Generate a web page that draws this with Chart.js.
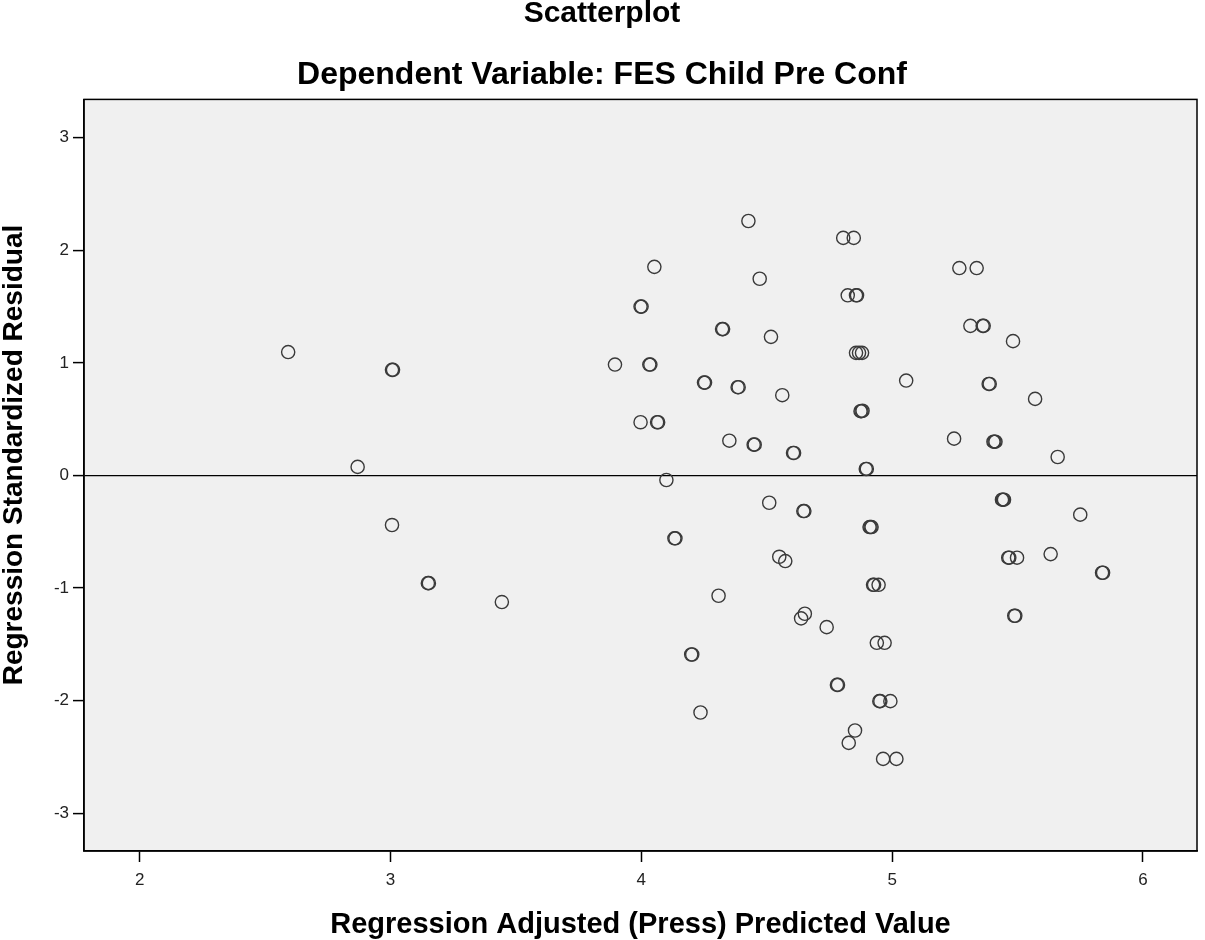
<!DOCTYPE html>
<html>
<head>
<meta charset="utf-8">
<script src="https://cdn.jsdelivr.net/npm/chart.js@4.4.1/dist/chart.umd.min.js"></script>
<style>
  html, body { margin: 0; padding: 0; background: #fff; overflow: hidden; }
  #wrap { width: 1205px; height: 940px; position: relative; }
  #myChart { display: block; }
</style>
</head>
<body>
<div id="wrap"><canvas id="myChart"></canvas></div>
<script>
// Regression Adjusted (Press) Predicted Value
const predicted = [
    2.592, 3.006, 3.010, 2.869, 3.006, 3.149, 3.153, 3.444,
    4.427, 4.805, 4.847, 4.052, 4.472, 4.823, 4.856, 4.860, 3.997, 4.001,
    4.322, 4.326, 4.517, 4.856, 4.868, 4.880, 3.895, 4.032, 4.036,
    4.250, 4.254, 4.384, 4.388, 4.562, 5.056, 4.874, 4.878, 4.882,
    3.997, 4.063, 4.067, 4.351, 4.448, 4.452, 4.605, 4.609, 4.895, 4.899,
    4.100, 4.510, 4.646, 4.650, 4.910, 4.914, 4.918, 4.132, 4.136,
    4.550, 4.574, 4.924, 4.928, 4.946, 4.308, 4.652, 4.637, 4.739,
    4.939, 4.970, 4.199, 4.203, 4.780, 4.784, 4.949, 4.953, 4.993,
    4.236, 4.852, 4.827, 4.964, 5.017,
    5.268, 5.337, 5.312, 5.361, 5.365, 5.482, 5.385, 5.389, 5.570,
    5.247, 5.404, 5.408, 5.412, 5.660, 5.438, 5.442, 5.446, 5.750,
    5.463, 5.467, 5.498, 5.632, 5.837, 5.841, 5.487, 5.491
];
// Regression Standardized Residual
const residual = [
    1.096, 0.938, 0.938, 0.076, -0.44, -0.956, -0.956, -1.124,
    2.26, 2.11, 2.11, 1.853, 1.747, 1.60, 1.60, 1.60, 1.50, 1.50,
    1.30, 1.30, 1.231, 1.089, 1.089, 1.089, 0.985, 0.985, 0.985,
    0.825, 0.825, 0.784, 0.784, 0.713, 0.843, 0.571, 0.571, 0.575,
    0.473, 0.473, 0.473, 0.309, 0.274, 0.274, 0.20, 0.20, 0.058, 0.058,
    -0.04, -0.242, -0.316, -0.316, -0.458, -0.458, -0.458, -0.558, -0.558,
    -0.722, -0.76, -0.971, -0.971, -0.971, -1.068, -1.228, -1.269, -1.347,
    -1.486, -1.486, -1.59, -1.59, -1.86, -1.86, -2.004, -2.004, -2.004,
    -2.105, -2.265, -2.375, -2.517, -2.517,
    1.842, 1.842, 1.329, 1.329, 1.329, 1.193, 0.813, 0.813, 0.68,
    0.327, 0.30, 0.30, 0.30, 0.164, -0.215, -0.215, -0.215, -0.348,
    -0.73, -0.73, -0.73, -0.698, -0.864, -0.864, -1.246, -1.246
];
const xTicks = [2, 3, 4, 5, 6];
const yTicks = [-3, -2, -1, 0, 1, 2, 3];
const yTitle = 'Regression Standardized Residual';

const FONT = "Arial, 'Liberation Sans', sans-serif";

const points = predicted.map((x, i) => ({ x: x, y: residual[i] }));

// plot background, frame and the (off-centre) y axis title
const frame = {
    id: 'frame',
    beforeDraw(chart) {
        const { ctx, chartArea: a } = chart;
        ctx.save();
        ctx.fillStyle = '#fff';
        ctx.fillRect(0, 0, chart.width, chart.height);
        ctx.fillStyle = '#f0f0f0';
        ctx.fillRect(a.left, a.top, a.right - a.left, a.bottom - a.top);
        ctx.restore();
    },
    afterDraw(chart) {
        const { ctx, chartArea: a } = chart;
        ctx.save();
        ctx.strokeStyle = '#000';
        ctx.lineWidth = 1.5;
        ctx.strokeRect(a.left, a.top, a.right - a.left, a.bottom - a.top);
        // y title sits a bit above the plot centre in the original
        ctx.translate(14, 455);
        ctx.rotate(-Math.PI / 2);
        ctx.fillStyle = '#000';
        ctx.font = 'bold 28px ' + FONT;
        ctx.textAlign = 'center';
        ctx.textBaseline = 'middle';
        ctx.fillText(yTitle, 0, 0);
        ctx.restore();
    }
};

const ctx = document.getElementById('myChart').getContext('2d');
const myChart = new Chart(ctx, {
    type: 'scatter',
    data: {
        datasets: [{
            data: points,
            pointRadius: 6.6,
            pointHoverRadius: 6.6,
            pointBorderWidth: 1.4,
            pointBorderColor: '#3a3a3a',
            pointBackgroundColor: 'rgba(0,0,0,0)'
        }]
    },
    options: {
        responsive: true,
        maintainAspectRatio: false,
        animation: false,
        layout: { padding: { left: 0, right: 1, top: 0, bottom: 0 } },
        plugins: {
            legend: { display: false },
            tooltip: { enabled: false },
            title: {
                display: true,
                text: 'Scatterplot',
                color: '#000',
                font: { family: FONT, size: 30, weight: 'bold', lineHeight: 0.9 },
                padding: { top: 0, bottom: 0 }
            },
            subtitle: {
                display: true,
                text: 'Dependent Variable: FES Child Pre Conf',
                color: '#000',
                font: { family: FONT, size: 32, weight: 'bold' },
                padding: { top: 29, bottom: 5 }
            }
        },
        scales: {
            x: {
                type: 'linear',
                min: 1.778,
                max: 6.2155,
                afterFit: (s) => { s.height = 89; },
                afterBuildTicks: (s) => { s.ticks = xTicks.map(v => ({ value: v })); },
                ticks: {
                    includeBounds: false,
                    color: '#222',
                    padding: 8,
                    font: { family: FONT, size: 17 }
                },
                grid: {
                    drawOnChartArea: false,
                    tickLength: 11,
                    tickColor: '#000',
                    tickWidth: 1.5
                },
                border: { display: true, color: '#000', width: 1.5 },
                title: {
                    display: true,
                    text: 'Regression Adjusted (Press) Predicted Value',
                    color: '#000',
                    font: { family: FONT, size: 29, weight: 'bold', lineHeight: 1 },
                    padding: { top: 0, bottom: 1 }
                }
            },
            y: {
                type: 'linear',
                min: -3.335,
                max: 3.34,
                afterFit: (s) => { s.width = 84; },
                afterBuildTicks: (s) => { s.ticks = yTicks.map(v => ({ value: v })); },
                ticks: {
                    includeBounds: false,
                    color: '#222',
                    padding: 4,
                    font: { family: FONT, size: 17 }
                },
                grid: {
                    // only the zero reference line inside the plot
                    color: (c) => (c.tick && c.tick.value === 0) ? '#000' : 'rgba(0,0,0,0)',
                    lineWidth: 1.2,
                    tickLength: 11,
                    tickColor: '#000',
                    tickWidth: 1.5
                },
                border: { display: true, color: '#000', width: 1.5 },
                title: { display: false }
            }
        }
    },
    plugins: [frame]
});
</script>
</body>
</html>
